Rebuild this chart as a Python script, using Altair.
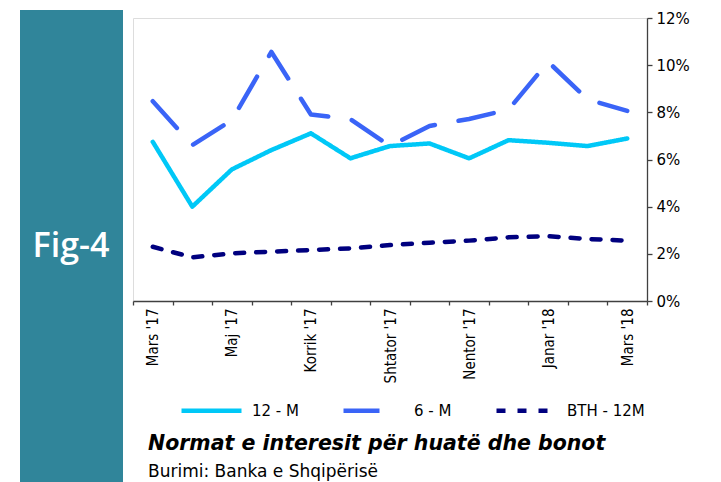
import json
import altair as alt
import pandas as pd

months = ["Mars '17", "Prill '17", "Maj '17", "Qershor '17", "Korrik '17", "Gusht '17",
          "Shtator '17", "Tetor '17", "Nentor '17", "Dhjetor '17", "Janar '18",
          "Shkurt '18", "Mars '18"]
shown_labels = months[::2]
rate_12m = [6.75, 4.00, 5.58, 6.40, 7.11, 6.05, 6.57, 6.68, 6.05, 6.82, 6.71, 6.57, 6.89]
rate_6m = [8.47, 6.61, 7.67, 10.56, 7.91, 7.71, 6.57, 7.42, 7.72, 8.12, 10.14, 8.55, 8.06]
rate_bth = [2.30, 1.85, 2.02, 2.09, 2.16, 2.23, 2.37, 2.47, 2.56, 2.70, 2.75, 2.63, 2.56]
series_names = ["12 - M", "6 - M", "BTH - 12M"]
y_ticks = [0, 2, 4, 6, 8, 10, 12]

title_text = "Normat e interesit për huatë dhe bonot"
source_text = "Burimi: Banka e Shqipërisë"
panel_text = "Fig-4"

colors = ["#00C8F7", "#3A64F7", "#00007F"]
dashes = [[1, 0], [36, 24], [9, 12]]

rows = []
for name, vals in zip(series_names, [rate_12m, rate_6m, rate_bth]):
    for m, v in zip(months, vals):
        rows.append({"month": m, "value": v, "series": name})
df = pd.DataFrame(rows)

label_expr = "indexof(" + json.dumps(shown_labels) + ", datum.value) >= 0 ? datum.value : ''"


def make_legend():
    return alt.Legend(title=None, orient="none", legendX=46, legendY=360,
                      direction="horizontal", symbolType="stroke",
                      symbolSize=3600, symbolStrokeWidth=4.5,
                      labelFont="DejaVu Sans", labelFontSize=15,
                      labelColor="#000000", columnPadding=35, labelOffset=8)


lines = alt.Chart(df).mark_line(strokeWidth=4.5, strokeCap="round", strokeJoin="round").encode(
    x=alt.X("month:N", sort=months, title=None,
            scale=alt.Scale(paddingInner=0, paddingOuter=0),
            axis=alt.Axis(labelAngle=-90, labelExpr=label_expr, tickBand="extent",
                          labelOverlap=False, tickSize=4, labelPadding=3,
                          labelFont="Liberation Sans Narrow, DejaVu Sans Condensed, Liberation Sans",
                          labelFontSize=15, labelColor="#000000",
                          domainColor="#404040", tickColor="#404040",
                          domainWidth=1.3, tickWidth=1.3)),
    y=alt.Y("value:Q", title=None, scale=alt.Scale(domain=[0, 12]),
            axis=alt.Axis(orient="right", values=y_ticks, labelExpr="datum.value + '%'",
                          grid=False, tickSize=5, labelPadding=4,
                          labelFont="DejaVu Sans", labelFontSize=15, labelColor="#000000",
                          domainColor="#404040", tickColor="#404040",
                          domainWidth=1.3, tickWidth=1.3)),
    color=alt.Color("series:N", scale=alt.Scale(domain=series_names, range=colors),
                    legend=make_legend()),
    strokeDash=alt.StrokeDash("series:N", scale=alt.Scale(domain=series_names, range=dashes),
                              legend=make_legend()),
)

one = pd.DataFrame({"t": [panel_text]})
panel = alt.Chart(one).mark_rect(color="#30859A").encode(
    x=alt.value(-113), x2=alt.value(-10), y=alt.value(-8), y2=alt.value(470))
panel_label = alt.Chart(one).mark_text(color="white", font="Open Sans", fontSize=34,
                                       fontWeight=600, align="center", baseline="middle").encode(
    x=alt.value(-62), y=alt.value(229), text="t:N")

title_df = pd.DataFrame({"t": [title_text]})
title = alt.Chart(title_df).mark_text(font="DejaVu Sans", fontSize=20.5, fontWeight="bold",
                                      fontStyle="italic", align="left", baseline="alphabetic",
                                      color="#000000").encode(
    x=alt.value(15), y=alt.value(432), text="t:N")
source_df = pd.DataFrame({"t": [source_text]})
source = alt.Chart(source_df).mark_text(font="DejaVu Sans", fontSize=17, align="left",
                                        baseline="alphabetic", color="#000000").encode(
    x=alt.value(15), y=alt.value(459), text="t:N")

chart = alt.layer(panel, panel_label, lines, title, source).properties(
    width=514, height=283,
    autosize=alt.AutoSizeParams(type="none"),
    padding={"left": 125, "top": 10, "right": 66, "bottom": 181},
).configure_view(stroke=None).configure(background="white")

chart.save("out.html", embed_options={"renderer": "svg", "actions": False})
